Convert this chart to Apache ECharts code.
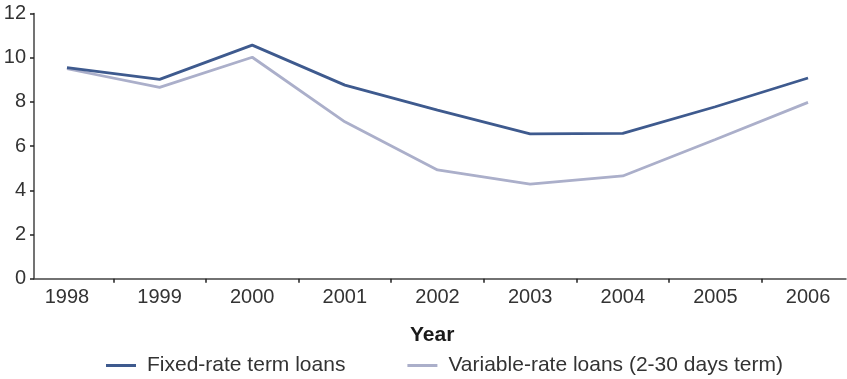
<!DOCTYPE html>
<html>
<head>
<meta charset="utf-8">
<script src="https://cdn.jsdelivr.net/npm/echarts@6/dist/echarts.min.js"></script>
<style>
  html, body { margin: 0; padding: 0; background: #fff; }
  #chart { width: 847px; height: 379px; }
</style>
</head>
<body>
<div id="chart"></div>
<script>
// data
var years = [1998, 1999, 2000, 2001, 2002, 2003, 2004, 2005, 2006];
var tickYears = [1998.5, 1999.5, 2000.5, 2001.5, 2002.5, 2003.5, 2004.5, 2005.5];
var fixedRate = [9.55, 9.02, 10.57, 8.76, 7.63, 6.55, 6.58, 7.78, 9.08];
var variableRate = [9.5, 8.66, 10.02, 7.1, 4.92, 4.28, 4.65, 6.3, 7.98];
var seriesNames = ['Fixed-rate term loans', 'Variable-rate loans (2-30 days term)'];

function pairs(vals) {
    var res = [];
    for (var i = 0; i < years.length; i++) {
        res.push([years[i], vals[i]]);
    }
    return res;
}

var myChart = echarts.init(document.getElementById('chart'));
var font = 'Liberation Sans, Helvetica, Arial, sans-serif';

var option = {
    animation: false,
    textStyle: { fontFamily: font },
    title: {
        text: 'Year',
        left: 410,
        top: 325,
        padding: 0,
        textStyle: { fontSize: 21, fontWeight: 'bold', color: '#1a1a1a', fontFamily: font }
    },
    legend: {
        left: 106,
        top: 355,
        padding: 0,
        icon: 'rect',
        itemWidth: 30,
        itemHeight: 3,
        itemGap: 62,
        textStyle: { fontSize: 21, color: '#333', padding: [0, 0, 0, 6] },
        data: seriesNames
    },
    grid: { left: 34, right: 1, top: 13.5, bottom: 100.3, containLabel: false },
    xAxis: {
        type: 'value',
        min: 1997.644,
        max: 2006.41,
        splitLine: { show: false },
        axisLine: { lineStyle: { color: '#444', width: 1.5 } },
        axisTick: {
            show: true,
            length: 4,
            customValues: tickYears,
            lineStyle: { color: '#222', width: 1.5 }
        },
        axisLabel: {
            customValues: years,
            margin: 9,
            fontSize: 20,
            color: '#333',
            formatter: function (v) { return String(v); }
        }
    },
    yAxis: {
        type: 'value',
        min: 0,
        max: 12,
        interval: 2,
        splitLine: { show: false },
        axisLine: { show: true, lineStyle: { color: '#444', width: 1.5 } },
        axisTick: { show: true, length: 4, lineStyle: { color: '#222', width: 1.5 } },
        axisLabel: { margin: 8, fontSize: 20, color: '#333' }
    },
    series: [
        {
            name: seriesNames[0],
            type: 'line',
            symbol: 'none',
            data: pairs(fixedRate),
            lineStyle: { color: '#3e5a8e', width: 2.8 },
            itemStyle: { color: '#3e5a8e' },
            z: 3
        },
        {
            name: seriesNames[1],
            type: 'line',
            symbol: 'none',
            data: pairs(variableRate),
            lineStyle: { color: '#abafca', width: 2.8 },
            itemStyle: { color: '#abafca' },
            z: 2
        }
    ]
};

myChart.setOption(option);
window.addEventListener('resize', function () {
    myChart.resize();
});
</script>
</body>
</html>
